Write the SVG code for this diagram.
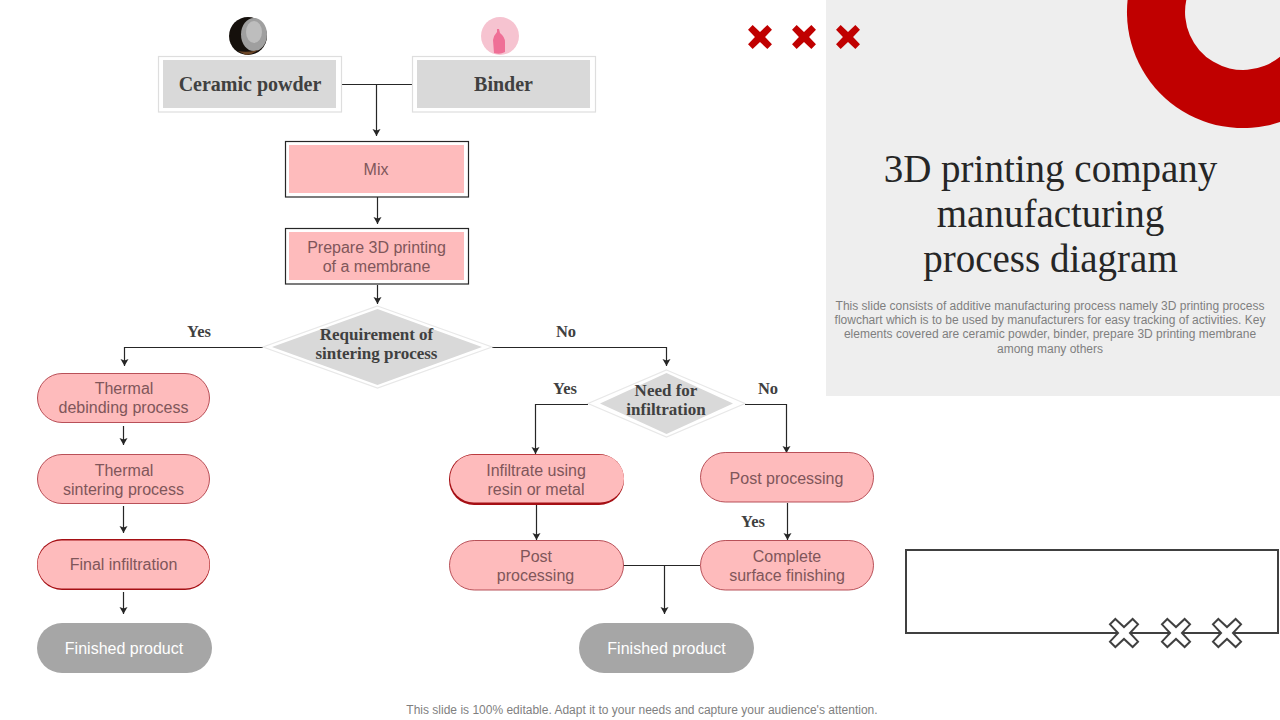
<svg xmlns="http://www.w3.org/2000/svg" width="1280" height="720" viewBox="0 0 1280 720">
<style>
.srf{font-family:"Liberation Serif","DejaVu Serif",serif;font-weight:700;fill:#404040}
.ttl{font-family:"Liberation Serif","DejaVu Serif",serif;fill:#262626;font-size:39px;text-anchor:middle}
.lbl{font-family:"Liberation Sans",Arial,sans-serif;font-size:16px;fill:#80565a;text-anchor:middle}
.wht{font-family:"Liberation Sans",Arial,sans-serif;font-size:16px;fill:#fff;text-anchor:middle}
.dsc{font-family:"Liberation Sans",Arial,sans-serif;font-size:12px;fill:#7f7f7f;text-anchor:middle}
.n18{font-size:20px;text-anchor:middle}
.n15{font-size:17px;text-anchor:middle}
.yn{font-size:16.5px;text-anchor:middle}
.ow{fill:#fff;stroke:#dedede;stroke-width:1.2}
.ob{fill:#fff;stroke:#262626;stroke-width:1.2}
.gf{fill:#d9d9d9}
.pf{fill:#febbbc}
.pill{fill:#febbbc;stroke:#b04048;stroke-width:.9}
.pils{fill:#a50f14}
.fin{fill:#a6a6a6}
.dw{fill:#d9d9d9}
.do{fill:#fff;stroke:#e8e8e8;stroke-width:1.2}
.c{fill:none;stroke:#262626;stroke-width:1.2;marker-end:url(#ah)}
.cn{fill:none;stroke:#262626;stroke-width:1.2}
.xr{fill:#c00000}
.xo{fill:#fff;stroke:#404040;stroke-width:1.8}
</style>
<defs>
<marker id="ah" markerUnits="userSpaceOnUse" markerWidth="10" markerHeight="10" refX="8" refY="5" orient="auto"><path d="M1,1 L8,5 L1,9 L2.5,5 Z" fill="#262626"/></marker>
<path id="x" d="M-8,-13 L0,-5.5 L8,-13 L13,-8 L5.5,0 L13,8 L8,13 L0,5.5 L-8,13 L-13,8 L-5.5,0 L-13,-8 Z"/>
</defs>
<rect width="1280" height="720" fill="#fff"/>
<g id="panel">
<rect x="826" y="0" width="454" height="396" fill="#eeeeee"/>
<path d="M1127.6,0 A116,116 0 0 0 1280,122 L1280,0 Z" fill="#c00000"/>
<path d="M1186.3,0 A58,58 0 0 0 1280,56.700 L1280,0 Z" fill="#eeeeee"/>
<text class="ttl"><tspan x="1050.500" y="182">3D printing company</tspan><tspan x="1050.500" y="227">manufacturing</tspan><tspan x="1050.500" y="272">process diagram</tspan></text>
<text class="dsc"><tspan x="1050" y="310">This slide consists of additive manufacturing process namely 3D printing process</tspan><tspan x="1050" y="324">flowchart which is to  be used by manufacturers for easy tracking of activities. Key</tspan><tspan x="1050" y="338">elements covered are ceramic powder, binder, prepare 3D printing membrane</tspan><tspan x="1050" y="353">among many others</tspan></text>
</g>
<g id="deco-red">
<use href="#x" transform="translate(760 37) scale(.92)" class="xr"/><use href="#x" transform="translate(804 37) scale(.92)" class="xr"/><use href="#x" transform="translate(848 37) scale(.92)" class="xr"/>
</g>
<g id="deco-box">
<rect x="906" y="550" width="372" height="83" fill="#fff" stroke="#404040" stroke-width="2"/>
<use href="#x" transform="translate(1124 633) scale(1.08)" class="xo"/><use href="#x" transform="translate(1176 633) scale(1.08)" class="xo"/><use href="#x" transform="translate(1227 633) scale(1.08)" class="xo"/>
</g>
<g id="connectors">
<path class="cn" d="M342,84.500H412"/>
<path class="c" d="M376.500,84.500V136"/>
<path class="c" d="M377.500,197V224"/>
<path class="c" d="M377.500,285V304"/>
<path class="c" d="M263,347.500H124.500V366"/>
<path class="c" d="M492,347.500H666.500V366"/>
<path class="c" d="M123.500,426V445"/>
<path class="c" d="M123.500,506V533"/>
<path class="c" d="M123.500,592V614"/>
<path class="c" d="M588,404.500H535.500V454"/>
<path class="c" d="M745,404.500H786.500V453"/>
<path class="c" d="M536.500,504V540"/>
<path class="c" d="M787.500,503V540"/>
<path class="cn" d="M623,565.500H700"/>
<path class="c" d="M664.500,565.500V614"/>
</g>
<g id="icon-ceramic">
<circle cx="248" cy="36" r="19" fill="#15100c"/>
<ellipse cx="254" cy="34.500" rx="13" ry="16.500" fill="#9f9f9f"/>
<ellipse cx="254" cy="32" rx="8" ry="11" fill="#bdbdbd"/>
<path d="M238,51 Q247,53 258,50 Q252,55 246,55 Z" fill="#6a4526"/>
</g>
<g id="icon-binder">
<circle cx="500" cy="36" r="19" fill="#f6c3d0"/>
<path d="M497,29 L499,29 L500,33 Q505,37 505,42 L505,52 Q500,55 494,53 L493,40 Q494,35 497,32 Z" fill="#ef6f96"/>
</g>
<g id="node-ceramic"><rect class="ow" x="158.500" y="56.500" width="183" height="55.500"/><rect class="gf" x="163" y="60" width="173" height="48"/><text class="srf n18" x="250" y="91">Ceramic powder</text></g>
<g id="node-binder"><rect class="ow" x="412.500" y="56.500" width="183" height="55.500"/><rect class="gf" x="417" y="60" width="173" height="48"/><text class="srf n18" x="503.500" y="91">Binder</text></g>
<g id="node-mix"><rect class="ob" x="285.500" y="141.500" width="183" height="55.500"/><rect class="pf" x="289" y="145" width="175" height="48"/><text class="lbl" x="376" y="175">Mix</text></g>
<g id="node-prepare"><rect class="ob" x="285.500" y="228.500" width="183" height="55.500"/><rect class="pf" x="289" y="232" width="175" height="48"/><text class="lbl"><tspan x="376.500" y="253">Prepare 3D printing</tspan><tspan x="376.500" y="272">of a membrane</tspan></text></g>
<g id="node-sintering-decision"><path class="do" d="M377.500,306 L492,347 L377.500,388 L263,347 Z"/><path class="dw" d="M377.500,309 L482,347 L377.500,385 L272,347 Z"/><text class="srf n15"><tspan x="376.500" y="340">Requirement of</tspan><tspan x="376.500" y="359">sintering process</tspan></text></g>
<g id="node-infiltration-decision"><path class="do" d="M666.500,370 L745,403.500 L666.500,437 L588,403.500 Z"/><path class="dw" d="M666.500,373 L733,403.500 L666.500,434 L600,403.500 Z"/><text class="srf n15"><tspan x="666" y="396">Need for</tspan><tspan x="666" y="415">infiltration</tspan></text></g>
<g id="node-debinding"><rect class="pill" x="37.500" y="373.500" width="172" height="49" rx="24.500"/><text class="lbl"><tspan x="124" y="394">Thermal</tspan><tspan x="123.500" y="413">debinding process</tspan></text></g>
<g id="node-sintering"><rect class="pill" x="37.500" y="454.500" width="172" height="49" rx="24.500"/><text class="lbl"><tspan x="124" y="476">Thermal</tspan><tspan x="123.500" y="495">sintering process</tspan></text></g>
<g id="node-final"><rect class="pils" x="37" y="539" width="173" height="51" rx="25"/><rect class="pf" x="37.500" y="540.500" width="172" height="48" rx="24"/><text class="lbl" x="123.500" y="570">Final infiltration</text></g>
<g id="node-finished-left"><rect class="fin" x="37" y="623" width="175" height="50" rx="25"/><text class="wht" x="124" y="654">Finished product</text></g>
<g id="node-infiltrate"><rect class="pils" x="449" y="454" width="175" height="51" rx="25"/><rect class="pf" x="450" y="454.800" width="174" height="47.700" rx="23.800"/><text class="lbl"><tspan x="536" y="476">Infiltrate  using</tspan><tspan x="536" y="495">resin or metal</tspan></text></g>
<g id="node-post-left"><rect class="pill" x="449.500" y="540.500" width="174" height="49.500" rx="24.700"/><text class="lbl"><tspan x="536" y="562">Post</tspan><tspan x="535.500" y="581">processing</tspan></text></g>
<g id="node-post-right"><rect class="pill" x="700.500" y="452.500" width="173" height="49.500" rx="24.700"/><text class="lbl" x="786.500" y="484">Post processing</text></g>
<g id="node-complete"><rect class="pill" x="700.500" y="540.500" width="173" height="49.500" rx="24.700"/><text class="lbl"><tspan x="787" y="562">Complete</tspan><tspan x="787" y="581">surface finishing</tspan></text></g>
<g id="node-finished-right"><rect class="fin" x="579" y="623" width="175" height="50" rx="25"/><text class="wht" x="666.500" y="654">Finished product</text></g>
<g id="labels">
<text class="srf yn" x="199" y="337">Yes</text>
<text class="srf yn" x="566" y="337">No</text>
<text class="srf yn" x="565" y="394">Yes</text>
<text class="srf yn" x="768" y="394">No</text>
<text class="srf yn" x="753" y="527">Yes</text>
</g>
<text class="dsc" x="642" y="714">This slide is 100% editable. Adapt it to your needs and capture your audience's attention.</text>
</svg>
